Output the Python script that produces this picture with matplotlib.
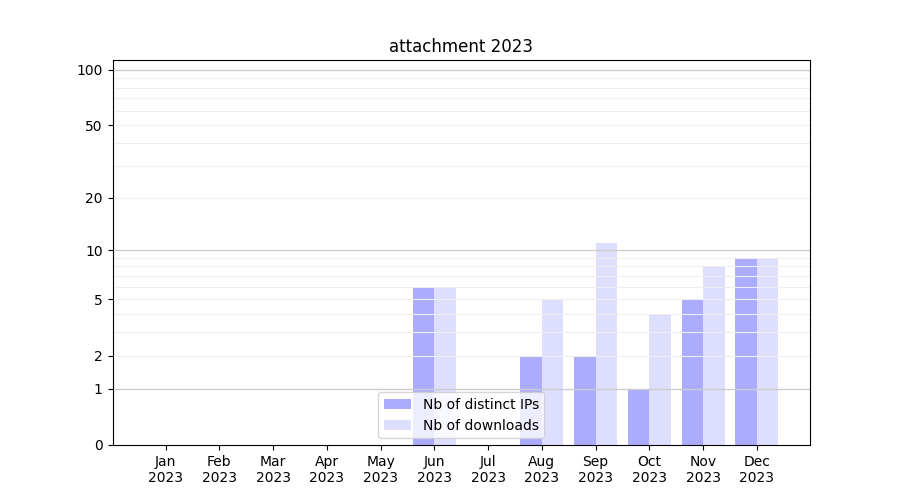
import numpy as np
import matplotlib.pyplot as plt

months = ["Jan", "Feb", "Mar", "Apr", "May", "Jun", "Jul", "Aug", "Sep", "Oct", "Nov", "Dec"]
year = "2023"
distinct_ips = [0, 0, 0, 0, 0, 6, 0, 2, 2, 1, 5, 9]
downloads = [0, 0, 0, 0, 0, 6, 0, 5, 11, 4, 8, 9]

yticks = [0, 1, 2, 5, 10, 20, 50, 100]
decades = [1, 10, 100]
minor_grid = list(range(2, 10)) + list(range(20, 100, 10))


def fwd(y):
    return np.log10(1 + np.clip(y, 0, None))


def inv(y):
    return 10 ** y - 1


x = np.arange(len(months))
fig, ax = plt.subplots(figsize=(9, 5), dpi=100)

ax.bar(x - 0.2, distinct_ips, width=0.4, color=(0, 0, 1, 0.33), label="Nb of distinct IPs")
ax.bar(x + 0.2, downloads, width=0.4, color=(0, 0, 1, 0.13), label="Nb of downloads")

ax.set_yscale("function", functions=(fwd, inv))
ax.set_ylim(0, 113)
ax.yaxis.remove_overlapping_locs = False
ax.set_yticks(yticks)
ax.set_yticklabels([str(v) for v in yticks])
ax.set_yticks(minor_grid, minor=True)
ax.grid(False, which="major")
ax.grid(True, axis="y", which="minor", color="#eeeeee", linewidth=0.8, zorder=1.5)
for d in decades:
    ax.axhline(d, color="#cccccc", linewidth=1, zorder=1.6)
ax.tick_params(axis="y", which="minor", length=0, width=0)

ax.set_xticks(x)
ax.set_xticklabels([f"{m}\n{year}" for m in months])
ax.set_xlim(-0.99, 11.99)

ax.set_title("attachment 2023")
ax.legend(loc="lower center")

plt.savefig("out.png")
